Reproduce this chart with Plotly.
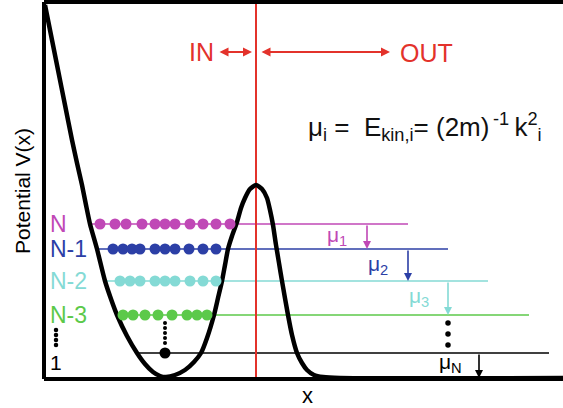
import plotly.graph_objects as go

# ---- data (axis units ~ pixels of the drawing) ----
curve_x = [1, 8, 14, 21, 28, 33, 38, 42, 46, 53, 61, 67, 73, 83, 93, 101, 109, 116, 122,
           131, 141, 150, 157, 163, 170, 174, 178, 181, 184, 188, 193, 197, 201, 206, 212,
           218, 223, 226, 229, 232, 235, 238, 244, 248, 253, 258, 263, 270, 279, 296, 519]
curve_v = [374, 339, 309, 274, 239, 216, 194, 174, 155, 130, 98, 80, 64, 43, 26, 15, 7, 3, 2,
           4, 9, 17, 26, 41, 64, 81, 98, 114, 130, 143, 157, 171, 181, 190, 194,
           190, 181, 169, 154, 134, 116, 98, 64, 44, 26, 16, 9, 4, 2, 1, 1]

level_names = ["N", "N-1", "N-2", "N-3", "1"]
level_v = [155, 130, 98, 64, 26]
level_start = [46, 51, 61, 74, 93]
level_end = [364, 404, 444, 485, 505]
level_colors = ["#c048b6", "#2c3fa6", "#84dad5", "#5cc94a", "#000000"]

dots_x = [
    [56, 71, 82, 98, 111, 121, 131, 146, 159, 172, 186],
    [69, 79, 88, 96, 111, 121, 131, 145, 159, 172],
    [76, 86, 96, 111, 121, 131, 146, 159, 172],
    [79, 89, 101, 114, 128, 143, 153, 163],
]
ground_dot_x = [121]

mu_labels = ["μ<sub>1</sub>", "μ<sub>2</sub>", "μ<sub>3</sub>", "μ<sub>N</sub>"]
mu_arrow_x = [323, 364, 404, 435]
mu_arrow_from = [155, 130, 98, 26]
mu_arrow_to = [130, 98, 64, 1]
mu_label_x = [293, 334, 375, 406]
mu_label_v = [143, 114, 82, 16]
mu_colors = ["#c048b6", "#2c3fa6", "#84dad5", "#000000"]

barrier_x = 212
vdots_left_v = [49, 44, 39, 34]
vdots_mid_v = [56, 51, 46, 41, 36]
vdots_right_v = [56, 45, 34]

RED = "#e3322b"
FONT = "Liberation Sans, Arial, sans-serif"
NB = "\u00a0"
TS = "\u2009"

fig = go.Figure()

# level lines
for i in range(len(level_names)):
    fig.add_trace(go.Scatter(x=[level_start[i], level_end[i]], y=[level_v[i], level_v[i]],
                             mode="lines", line=dict(color=level_colors[i], width=1.6),
                             hoverinfo="skip"))

# barrier line
fig.add_trace(go.Scatter(x=[barrier_x, barrier_x], y=[0, 377], mode="lines",
                         line=dict(color=RED, width=2), hoverinfo="skip"))

# potential curve
fig.add_trace(go.Scatter(x=curve_x, y=curve_v, mode="lines",
                         line=dict(color="black", width=4.5, shape="spline", smoothing=0.6),
                         hoverinfo="skip"))

# particle dots
for i, xs in enumerate(dots_x):
    fig.add_trace(go.Scatter(x=xs, y=[level_v[i]] * len(xs), mode="markers",
                             marker=dict(color=level_colors[i], size=11, line=dict(width=0)),
                             hoverinfo="skip"))
fig.add_trace(go.Scatter(x=ground_dot_x, y=[level_v[4]], mode="markers",
                         marker=dict(color="black", size=11), hoverinfo="skip"))

# vertical ellipsis dots
fig.add_trace(go.Scatter(x=[12] * len(vdots_left_v), y=vdots_left_v, mode="markers",
                         marker=dict(color="black", size=4.5), hoverinfo="skip"))
fig.add_trace(go.Scatter(x=[121] * len(vdots_mid_v), y=vdots_mid_v, mode="markers",
                         marker=dict(color="black", size=4), hoverinfo="skip"))
fig.add_trace(go.Scatter(x=[404] * len(vdots_right_v), y=vdots_right_v, mode="markers",
                         marker=dict(color="black", size=5.5), hoverinfo="skip"))

ann = []
# level labels
for i in range(4):
    ann.append(dict(x=4, y=level_v[i], xref="x", yref="y", text=level_names[i], showarrow=False,
                    xanchor="left", yanchor="middle", font=dict(size=23, color=level_colors[i])))
ann.append(dict(x=12, y=17, xref="x", yref="y", text="1", showarrow=False,
                xanchor="center", yanchor="middle", font=dict(size=21, color="black")))

# mu arrows and labels
for i in range(4):
    ann.append(dict(x=mu_arrow_x[i], y=mu_arrow_to[i], ax=mu_arrow_x[i], ay=mu_arrow_from[i],
                    xref="x", yref="y", axref="x", ayref="y", text="", showarrow=True,
                    arrowhead=2, arrowsize=1, arrowwidth=1.6, arrowcolor=mu_colors[i]))
    ann.append(dict(x=mu_label_x[i], y=mu_label_v[i], xref="x", yref="y", text=mu_labels[i],
                    showarrow=False, xanchor="center", yanchor="middle",
                    font=dict(size=21, color=mu_colors[i])))

# IN / OUT
ann.append(dict(x=157, y=327, xref="x", yref="y", text="IN", showarrow=False,
                font=dict(size=25, color=RED)))
ann.append(dict(x=382, y=326, xref="x", yref="y", text="OUT", showarrow=False,
                font=dict(size=25, color=RED)))
ann.append(dict(x=208, y=327, ax=174, ay=327, xref="x", yref="y", axref="x", ayref="y",
                text="", showarrow=True, arrowhead=2, startarrowhead=2, arrowside="end+start",
                arrowsize=1, startarrowsize=1, arrowwidth=1.8, arrowcolor=RED))
ann.append(dict(x=346, y=327, ax=216, ay=327, xref="x", yref="y", axref="x", ayref="y",
                text="", showarrow=True, arrowhead=2, startarrowhead=2, arrowside="end+start",
                arrowsize=1, startarrowsize=1, arrowwidth=1.8, arrowcolor=RED))

# formula
formula = ("μ<sub>i</sub>" + NB + "=" + NB + NB + "E<sub>kin,i</sub>=" + NB +
           "(2m)<sup>" + TS + "-1</sup>" + TS + "k<sup>2</sup><sub>i</sub>")
ann.append(dict(x=262, y=252, xref="x", yref="y", text=formula,
                showarrow=False, xanchor="left", yanchor="middle",
                font=dict(size=26, color="#111111")))

# axis titles (paper coords so they are not hidden outside the axis range)
ann.append(dict(x=(307 - 44) / 519, y=(379 - 395) / 377, xref="paper", yref="paper", text="x",
                showarrow=False, xanchor="center", yanchor="middle",
                font=dict(size=22, color="black")))
ann.append(dict(x=(22 - 44) / 519, y=(379 - 191) / 377, xref="paper", yref="paper",
                text="Potential V(x)", showarrow=False, textangle=-90,
                xanchor="center", yanchor="middle", font=dict(size=21, color="black")))

shapes = [
    dict(type="line", xref="paper", yref="paper", x0=0, x1=0, y0=0, y1=1,
         line=dict(color="black", width=4)),
    dict(type="line", xref="paper", yref="paper", x0=0, x1=1.01, y0=1, y1=1,
         line=dict(color="black", width=4)),
    dict(type="line", xref="paper", yref="paper", x0=0, x1=1.01, y0=0, y1=0,
         line=dict(color="black", width=4)),
]

fig.update_layout(
    width=563, height=408,
    margin=dict(l=44, r=0, t=2, b=29),
    paper_bgcolor="white", plot_bgcolor="white",
    showlegend=False,
    font=dict(family=FONT),
    xaxis=dict(range=[0, 519], visible=False, fixedrange=True),
    yaxis=dict(range=[0, 377], visible=False, fixedrange=True),
    annotations=ann, shapes=shapes,
)

fig.write_html("out.html")
